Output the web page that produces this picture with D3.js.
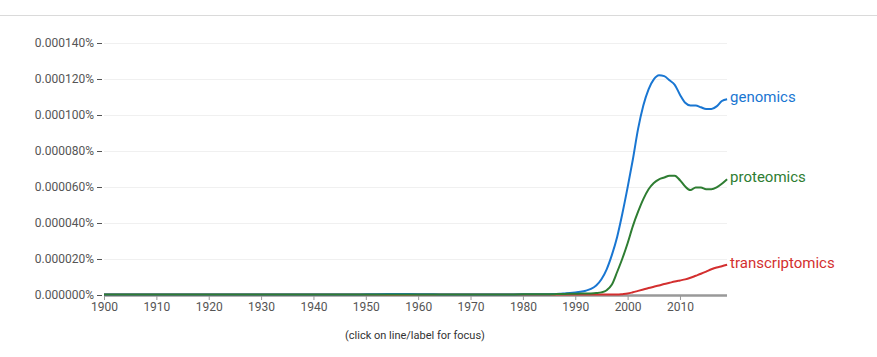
<!DOCTYPE html>
<html><head><meta charset="utf-8">
<script src="https://cdn.jsdelivr.net/npm/d3@7"></script>
<style>
body{margin:0;background:#fff;font-family:Roboto,"Noto Sans",Arial,sans-serif;}
</style></head>
<body>
<svg id="c" width="877" height="357"></svg>
<script>
const years = [1900,1910,1920,1930,1940,1948,1952,1956,1960,1963,1966,1970,1975,1980,
  1985,1986,1987,1988,1989,1990,1991,1992,1993,1994,1995,1996,1997,1998,1999,2000,
  2001,2002,2003,2004,2005,2006,2007,2008,2009,2010,2011,2012,2013,2014,2015,2016,2017,2018,2019];
const genomics = [0,0,0,0,0,0,2e-7,2.5e-7,2e-7,1e-7,0,0,0,1e-7,
  2e-7,3e-7,4e-7,6e-7,8e-7,1.1e-6,1.5e-6,2.1e-6,3.1e-6,5e-6,8.5e-6,1.4e-5,2.2e-5,3.2e-5,4.5e-5,5.95e-5,
  7.5e-5,9.2e-5,1.05e-4,1.14e-4,1.195e-4,1.218e-4,1.213e-4,1.19e-4,1.165e-4,1.11e-4,1.065e-4,1.05e-4,1.05e-4,1.04e-4,1.03e-4,1.03e-4,1.045e-4,1.075e-4,1.085e-4];
const proteomics = [0,0,0,0,0,0,0,0,0,0,0,0,0,1e-7,
  2e-7,2e-7,3e-7,3e-7,4e-7,4e-7,5e-7,5e-7,6e-7,8e-7,1.2e-6,2.4e-6,5.5e-6,1.25e-5,2.0e-5,2.85e-5,
  3.8e-5,4.6e-5,5.3e-5,5.85e-5,6.2e-5,6.4e-5,6.5e-5,6.6e-5,6.6e-5,6.35e-5,6.0e-5,5.8e-5,5.95e-5,5.95e-5,5.85e-5,5.85e-5,5.95e-5,6.15e-5,6.4e-5];
const transcriptomics = [0,0,0,0,0,0,0,0,0,0,0,0,0,0,
  0,0,0,0,0,0,0,0,0,0,0,0,0,0,2e-7,5e-7,
  1.2e-6,2e-6,2.8e-6,3.6e-6,4.3e-6,5e-6,5.8e-6,6.5e-6,7.2e-6,7.8e-6,8.4e-6,9.3e-6,1.04e-5,1.15e-5,1.27e-5,1.4e-5,1.5e-5,1.57e-5,1.65e-5];
const seriesNames = ["transcriptomics","genomics","proteomics"];
const seriesColors = {genomics:"#1976d2", proteomics:"#2e7d32", transcriptomics:"#d32f2f"};
const yTicks = [0,0.00002,0.00004,0.00006,0.00008,0.0001,0.00012,0.00014];
const yTickLabels = ["0.000000%","0.000020%","0.000040%","0.000060%","0.000080%","0.000100%","0.000120%","0.000140%"];
const xTicks = [1900,1910,1920,1930,1940,1950,1960,1970,1980,1990,2000,2010];
const note = "(click on line/label for focus)";

const values = {genomics, proteomics, transcriptomics};
const svg = d3.select("#c");
const x = d3.scaleLinear().domain([1900,2019]).range([104,727.1]);
const y = d3.scaleLinear().domain([0,0.00014]).range([295,43]);

svg.append("line").attr("x1",0).attr("x2",877).attr("y1",15.5).attr("y2",15.5).attr("stroke","#dadada").attr("stroke-width",1);

// grid
svg.append("g").selectAll("line").data(yTicks.slice(1)).join("line")
  .attr("x1",104).attr("x2",727).attr("y1",d=>Math.round(y(d))+0.5).attr("y2",d=>Math.round(y(d))+0.5)
  .attr("stroke","#f0f0f0");

// y axis
const ya = svg.append("g").attr("transform","translate(104,0)")
  .call(d3.axisLeft(y).tickValues(yTicks).tickFormat((d,i)=>yTickLabels[i]).tickSize(7).tickPadding(4));
ya.select(".domain").remove();
ya.selectAll(".tick line").attr("stroke","#555").attr("x2",-2).attr("x1",-7);
ya.selectAll(".tick text").attr("fill","#555").attr("font-size","12px").attr("font-family","Roboto,sans-serif").attr("x",-10);

// x axis
const xa = svg.append("g").attr("transform","translate(0,295)")
  .call(d3.axisBottom(x).tickValues(xTicks).tickFormat(d3.format("d")).tickSize(5).tickPadding(2));
xa.select(".domain").attr("stroke","#999").attr("stroke-width",2.5).attr("d","M104,0.5H727");
xa.selectAll(".tick line").attr("stroke","#999");
xa.selectAll(".tick text").attr("fill","#555").attr("font-size","12px").attr("font-family","Roboto,sans-serif");

const line = d3.line().x((d,i)=>x(years[i])).y(d=>y(d)-0.5).curve(d3.curveMonotoneX);
seriesNames.forEach(n=>{
  svg.append("path").attr("d",line(values[n])).attr("fill","none")
    .attr("stroke",seriesColors[n]).attr("stroke-width",2);
});
seriesNames.forEach(n=>{
  const v = values[n];
  svg.append("text").attr("x",x(2019)+3).attr("y",y(v[v.length-1])-3)
    .attr("dy","0.35em").attr("fill",seriesColors[n]).attr("font-size","15px")
    .attr("font-family","Roboto,sans-serif").text(n);
});

svg.append("text").attr("x",415).attr("y",339).attr("text-anchor","middle")
  .attr("fill","#333").attr("font-size","11px").attr("font-family","Roboto,sans-serif").text(note);
</script>
</body></html>
